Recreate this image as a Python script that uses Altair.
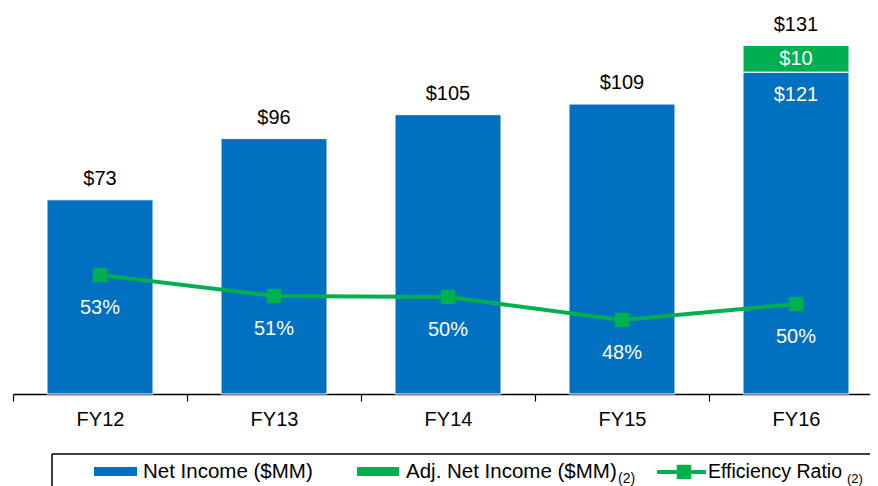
import altair as alt
import pandas as pd

years = ["FY12", "FY13", "FY14", "FY15", "FY16"]
net_income = [73, 96, 105, 109, 121]
adj_income = [0, 0, 0, 0, 10]
total_labels = ["$73", "$96", "$105", "$109", "$131"]
eff_ratio = [52.65, 50.55, 50.45, 48.15, 49.75]
eff_labels = ["53%", "51%", "50%", "48%", "50%"]

BLUE = "#0070C0"
GREEN = "#00B050"
FONT = "Liberation Sans"

bars_df = pd.DataFrame({
    "year": years * 2,
    "series": ["Net Income"] * 5 + ["Adj"] * 5,
    "value": net_income + adj_income,
    "order": [0] * 5 + [1] * 5,
})
bars_df = bars_df[bars_df["value"] > 0]

tot_df = pd.DataFrame({
    "year": years,
    "total": [a + b for a, b in zip(net_income, adj_income)],
    "label": total_labels,
})

inner_net = pd.DataFrame({"year": [y for y, a in zip(years, adj_income) if a > 0],
                          "v": [n for n, a in zip(net_income, adj_income) if a > 0]})
inner_net["label"] = ["$" + str(v) for v in inner_net["v"]]
inner_adj = pd.DataFrame({"year": [y for y, a in zip(years, adj_income) if a > 0],
                          "v": [n + a / 2 for n, a in zip(net_income, adj_income) if a > 0],
                          "label": ["$" + str(a) for a in adj_income if a > 0]})

eff_df = pd.DataFrame({"year": years, "eff": eff_ratio, "label": eff_labels})

xscale = alt.Scale(domain=years, range=[0, 870], paddingInner=0, paddingOuter=0)
xaxis = alt.Axis(title=None, labelFontSize=20, labelFont=FONT, labelColor="black",
                 domainColor="black", domainWidth=1.5, tickColor="black", tickWidth=1.2,
                 tickSize=7, tickBand="extent", labelPadding=8, labelAngle=0)
X = alt.X("year:N", scale=xscale, axis=xaxis, sort=years)

ybar = alt.Scale(domain=[0, 145.1])
yline = alt.Scale(domain=[40.75, 79.35])

bars = alt.Chart(bars_df).mark_bar(size=106, stroke="white", strokeWidth=1).encode(
    x=X,
    y=alt.Y("value:Q", stack="zero", scale=ybar, axis=None),
    color=alt.Color("series:N", scale=alt.Scale(domain=["Net Income", "Adj"], range=[BLUE, GREEN]), legend=None),
    order=alt.Order("order:Q"),
)

tot_text = alt.Chart(tot_df).mark_text(font=FONT, fontSize=20, color="black", dy=-21, baseline="middle").encode(
    x=X, y=alt.Y("total:Q", scale=ybar, axis=None), text="label:N")

in_net_text = alt.Chart(inner_net).mark_text(font=FONT, fontSize=20, color="white", dy=23, baseline="middle").encode(
    x=X, y=alt.Y("v:Q", scale=ybar, axis=None), text="label:N")

in_adj_text = alt.Chart(inner_adj).mark_text(font=FONT, fontSize=20, color="white", dy=0, baseline="middle").encode(
    x=X, y=alt.Y("v:Q", scale=ybar, axis=None), text="label:N")

line = alt.Chart(eff_df).mark_line(color=GREEN, strokeWidth=4,
                                   point=alt.OverlayMarkDef(shape="square", size=210, filled=True,
                                                            color=GREEN, opacity=1)).encode(
    x=X, y=alt.Y("eff:Q", scale=yline, axis=None))

eff_text = alt.Chart(eff_df).mark_text(font=FONT, fontSize=20, color="white", dy=33, baseline="middle").encode(
    x=X, y=alt.Y("eff:Q", scale=yline, axis=None), text="label:N")

LF = 20.5
dummy = pd.DataFrame({"a": [0]})
base = alt.Chart(dummy)
leg = [
    base.mark_rule(color="black", strokeWidth=1.5).encode(x=alt.value(39), x2=alt.value(900), y=alt.value(446)),
    base.mark_rule(color="black", strokeWidth=1.5).encode(x=alt.value(39), y=alt.value(446), y2=alt.value(500)),
    base.mark_rect(color=BLUE).encode(x=alt.value(81), x2=alt.value(124), y=alt.value(459), y2=alt.value(468)),
    base.mark_text(font=FONT, fontSize=LF, align="left", baseline="middle", color="black").encode(
        x=alt.value(130), y=alt.value(464), text=alt.value("Net Income ($MM)")),
    base.mark_rect(color=GREEN).encode(x=alt.value(344), x2=alt.value(386), y=alt.value(459), y2=alt.value(468)),
    base.mark_text(font=FONT, fontSize=LF, align="left", baseline="middle", color="black").encode(
        x=alt.value(393), y=alt.value(464), text=alt.value("Adj. Net Income ($MM)")),
    base.mark_text(font=FONT, fontSize=14, align="left", baseline="middle", color="black").encode(
        x=alt.value(605), y=alt.value(471), text=alt.value("(2)")),
    base.mark_rule(color=GREEN, strokeWidth=4).encode(x=alt.value(644), x2=alt.value(693), y=alt.value(464)),
    base.mark_point(shape="square", size=210, filled=True, color=GREEN, opacity=1).encode(
        x=alt.value(671), y=alt.value(464)),
    base.mark_text(font=FONT, fontSize=19.5, align="left", baseline="middle", color="black").encode(
        x=alt.value(695), y=alt.value(464), text=alt.value("Efficiency Ratio")),
    base.mark_text(font=FONT, fontSize=13, align="left", baseline="middle", color="black").encode(
        x=alt.value(834), y=alt.value(471), text=alt.value("(2)")),
]

chart = alt.layer(bars, tot_text, in_net_text, in_adj_text, line, eff_text, *leg).resolve_scale(
    y="independent"
).properties(
    width=857, height=386,
    autosize=alt.AutoSizeParams(type="none"),
    padding={"left": 5, "top": 0, "right": 0, "bottom": 92},
).configure_view(stroke=None)

chart.save("out.html", embed_options={"renderer": "svg", "actions": False})
